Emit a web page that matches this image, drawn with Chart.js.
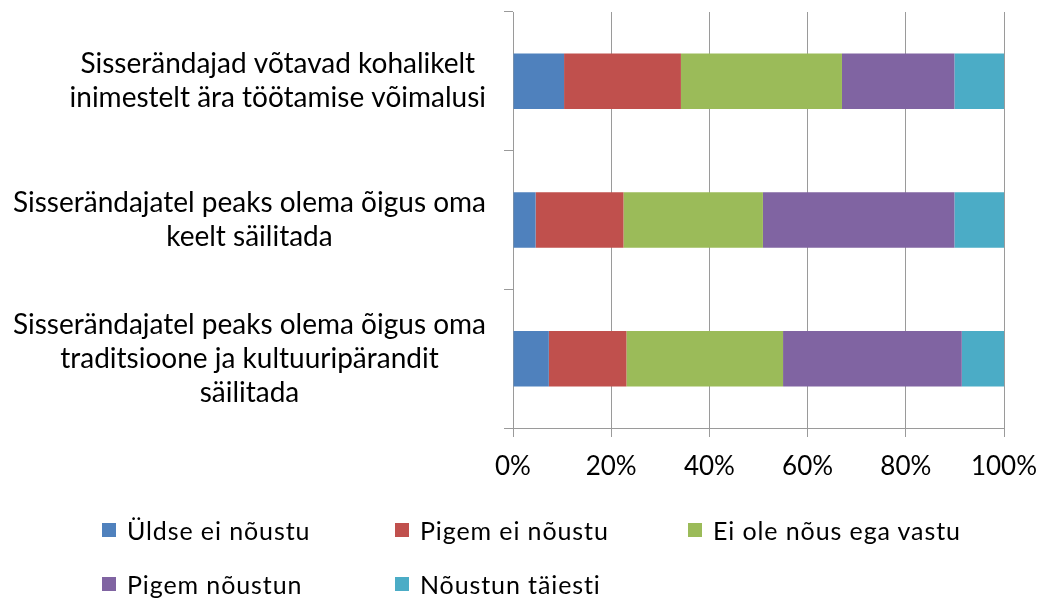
<!DOCTYPE html>
<html>
<head>
<meta charset="utf-8">
<script src="https://cdn.jsdelivr.net/npm/chart.js@4"></script>
<style>
    body { margin: 0; background: #fff; }
    #wrap { position: relative; width: 1042px; height: 601px; font-family: Lato, sans-serif; }
    .item { position: absolute; display: flex; align-items: center; font-size: 25px; letter-spacing: 0.9px; color: #000; white-space: nowrap; }
    .item span.box { display: inline-block; width: 14px; height: 14px; margin-right: 11px; }
</style>
</head>
<body>
<div id="wrap">
    <canvas id="mainChart" width="1042" height="601"></canvas>
    <div id="legend"></div>
</div>
<script>
// category labels, split in lines like the original
const categories = [
    ['Sisserändajad võtavad kohalikelt', 'inimestelt ära töötamise võimalusi'],
    ['Sisserändajatel peaks olema õigus oma', 'keelt säilitada'],
    ['Sisserändajatel peaks olema õigus oma', 'traditsioone ja kultuuripärandit', 'säilitada']
];
const seriesNames = ['Üldse ei nõustu', 'Pigem ei nõustu', 'Ei ole nõus ega  vastu', 'Pigem nõustun', 'Nõustun täiesti'];
const seriesColors = ['#4F81BD', '#C0504D', '#9BBB59', '#8064A2', '#4BACC6'];

// shares in percent, one value per category
const uldseEi = [10.4, 4.6, 7.3];
const pigemEi = [23.8, 17.9, 15.8];
const eiOleNous = [32.8, 28.4, 31.9];
const pigemNoustun = [22.9, 39.0, 36.4];
const taiesti = [10.1, 10.1, 8.6];
const seriesValues = [uldseEi, pigemEi, eiOleNous, pigemNoustun, taiesti];

const xTicks = [0, 20, 40, 60, 80, 100];
const fontFamily = 'Lato, sans-serif';
const gridColor = '#9a9a9a';

// draw the category labels: block right aligned, each line centered in the block
const categoryLabels = {
    id: 'categoryLabels',
    afterDraw(chart) {
        const ctx = chart.ctx;
        const yScale = chart.scales.y;
        ctx.save();
        ctx.font = '28px ' + fontFamily;
        ctx.fillStyle = '#000';
        ctx.textAlign = 'center';
        ctx.textBaseline = 'middle';
        categories.forEach((lines, i) => {
            const cy = yScale.getPixelForValue(i);
            const w = Math.max(...lines.map((l) => ctx.measureText(l).width));
            const cx = chart.chartArea.left - 27 - w / 2;
            lines.forEach((line, j) => {
                ctx.fillText(line, cx, cy + (j - (lines.length - 1) / 2) * 34);
            });
        });
        ctx.restore();
    },
};

const datasets = seriesNames.map((name, i) => ({
    label: name,
    data: seriesValues[i],
    backgroundColor: seriesColors[i],
    barPercentage: 0.4,
    categoryPercentage: 1,
}));

const ctx = document.getElementById('mainChart').getContext('2d');
const chart = new Chart(ctx, {
    type: 'bar',
    data: {
        labels: categories.map((c) => c.join(' ')),
        datasets: datasets,
    },
    options: {
        indexAxis: 'y',
        responsive: false,
        animation: false,
        layout: { padding: { top: 12, right: 38, left: 0, bottom: 0 } },
        plugins: {
            legend: { display: false },
            tooltip: { enabled: false },
        },
        scales: {
            x: {
                stacked: true,
                min: 0,
                max: 100,
                afterBuildTicks: (scale) => {
                    scale.ticks = xTicks.map((v) => ({ value: v }));
                },
                ticks: {
                    callback: (v) => v + '%',
                    color: '#000',
                    font: { family: fontFamily, size: 26 },
                    padding: 14,
                    maxRotation: 0,
                },
                grid: { color: gridColor, tickColor: gridColor, tickLength: 9 },
                border: { color: gridColor },
                afterFit: (scale) => {
                    scale.height = 173;
                    scale.paddingLeft = 0;
                    scale.paddingRight = 0;
                },
            },
            y: {
                stacked: true,
                ticks: { display: false },
                grid: { offset: true, drawOnChartArea: false, color: gridColor, tickLength: 9 },
                border: { color: gridColor },
                afterFit: (scale) => { scale.width = 513; },
            },
        },
    },
    plugins: [categoryLabels],
});

// legend in three columns like the original
const legendEl = document.getElementById('legend');
seriesNames.forEach((name, i) => {
    const item = document.createElement('div');
    item.className = 'item';
    item.style.left = (102 + (i % 3) * 293) + 'px';
    item.style.top = (515 + Math.floor(i / 3) * 54) + 'px';
    item.style.height = '30px';
    item.innerHTML = '<span class="box" style="background:' + seriesColors[i] + '"></span>' + name;
    legendEl.appendChild(item);
});
</script>
</body>
</html>
